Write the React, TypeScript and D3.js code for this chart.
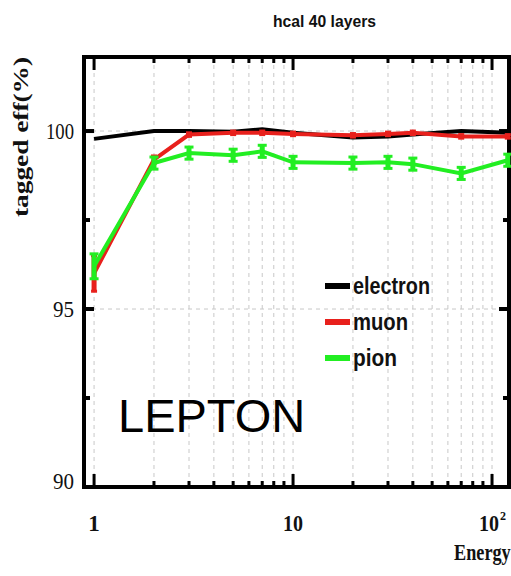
import React from 'react';
import * as d3 from 'd3';

const energies = [1, 2, 3, 5, 7, 10, 20, 30, 40, 70, 120];
const electronEff = [99.78, 100.0, 100.0, 99.98, 100.05, 99.95, 99.82, 99.85, 99.9, 100.0, 99.95];
const muonEff = [96.0, 99.2, 99.9, 99.95, 99.95, 99.92, 99.88, 99.92, 99.95, 99.85, 99.85];
const muonErr = [0.5, 0.1, 0.05, 0.05, 0.05, 0.05, 0.05, 0.05, 0.05, 0.05, 0.05];
const pionEff = [96.2, 99.1, 99.38, 99.32, 99.43, 99.12, 99.1, 99.12, 99.07, 98.81, 99.18];
const pionErr = [0.35, 0.17, 0.17, 0.17, 0.17, 0.17, 0.17, 0.17, 0.17, 0.17, 0.17];
const yTicks = [90, 95, 100];
const yMinorTicks = [92.5, 97.5];
const legendNames = ['electron', 'muon', 'pion'];
const legendWidths = [77, 55, 44];
const legendColors = ['#000000', '#e8201c', '#22ee22'];

const W = 511;
const H = 576;
const left = 84, top = 57, right = 509, bottom = 487;

export default function App() {
  const x = d3.scaleLog().domain([0.89, 121.7]).range([left, right]);
  const y = d3.scaleLinear().domain([90, 102.08]).range([bottom, top]);

  const line = d3
    .line<number>()
    .x((_, i) => x(energies[i]))
    .y((d) => y(d));

  // log ticks 1..9, 10..90, 100
  const logTicks: number[] = [];
  [1, 10, 100].forEach((dec) => {
    for (let k = 1; k < 10; k++) {
      const v = dec * k;
      if (v <= 121) logTicks.push(v);
    }
  });
  const majors = [1, 10, 100];

  const serif = 'Liberation Serif, DejaVu Serif, serif';
  const sans = 'Liberation Sans, Arial, sans-serif';

  const errBars = (vals: number[], errs: number[], color: string, capW: number) =>
    vals.map((v, i) => (
      <g key={i}>
        <line x1={x(energies[i])} x2={x(energies[i])} y1={y(v - errs[i])} y2={y(v + errs[i])} stroke={color} strokeWidth={5} />
        <line x1={x(energies[i]) - capW / 2} x2={x(energies[i]) + capW / 2} y1={y(v - errs[i])} y2={y(v - errs[i])} stroke={color} strokeWidth={3} />
        <line x1={x(energies[i]) - capW / 2} x2={x(energies[i]) + capW / 2} y1={y(v + errs[i])} y2={y(v + errs[i])} stroke={color} strokeWidth={3} />
      </g>
    ));

  const yLabelW: Record<number, number> = { 90: 21, 95: 21, 100: 28 };

  return (
    <svg width={W} height={H} style={{ position: 'absolute', left: 0, top: 0, background: '#fff' }}>
      <rect x={0} y={0} width={W} height={H} fill="#fff" />
      <text x={273} y={27} textLength={103} lengthAdjust="spacingAndGlyphs" fontFamily={sans} fontWeight="bold" fontSize={17} fill="#111">
        hcal 40 layers
      </text>

      {/* grid */}
      {logTicks.map((t) => (
        <line key={'gx' + t} x1={x(t)} x2={x(t)} y1={top} y2={bottom} stroke="#c8c8c8" strokeWidth={1} strokeDasharray="4,4" />
      ))}
      {yTicks.map((t) => (
        <line key={'gy' + t} x1={left} x2={right} y1={y(t)} y2={y(t)} stroke="#c8c8c8" strokeWidth={1} strokeDasharray="4,4" />
      ))}

      {/* ticks */}
      {logTicks.map((t) => {
        const len = majors.includes(t) ? 13 : 6;
        return (
          <g key={'tk' + t}>
            <line x1={x(t)} x2={x(t)} y1={bottom} y2={bottom - len} stroke="#000" strokeWidth={3} />
            <line x1={x(t)} x2={x(t)} y1={top} y2={top + len} stroke="#000" strokeWidth={3} />
          </g>
        );
      })}
      {yTicks.map((t) => (
        <g key={'ty' + t}>
          <line x1={left} x2={left + 10} y1={y(t)} y2={y(t)} stroke="#000" strokeWidth={4} />
          <line x1={right} x2={right - 10} y1={y(t)} y2={y(t)} stroke="#000" strokeWidth={4} />
        </g>
      ))}
      {yMinorTicks.map((t) => (
        <g key={'tym' + t}>
          <line x1={left} x2={left + 6} y1={y(t)} y2={y(t)} stroke="#000" strokeWidth={4} />
          <line x1={right} x2={right - 6} y1={y(t)} y2={y(t)} stroke="#000" strokeWidth={4} />
        </g>
      ))}

      {/* frame */}
      <rect x={left} y={top} width={right - left} height={bottom - top} fill="none" stroke="#000" strokeWidth={4} />

      {/* tick labels */}
      {yTicks.map((t) => (
        <text key={'ly' + t} x={74 - yLabelW[t]} y={t === 90 ? y(t) + 2 : y(t) + 8} textLength={yLabelW[t]} lengthAdjust="spacingAndGlyphs" fontFamily={serif} fontSize={24} fill="#111">
          {t}
        </text>
      ))}
      <text x={x(1)} y={531} textAnchor="middle" fontFamily={serif} fontWeight="bold" fontSize={23} fill="#111">1</text>
      <text transform={`translate(${x(10) - 10},531) scale(0.87,1)`} fontFamily={serif} fontWeight="bold" fontSize={23} fill="#111">10</text>
      <text transform="translate(479,531) scale(0.87,1)" fontFamily={serif} fontWeight="bold" fontSize={23} fill="#111">10</text>
      <text x={500} y={520} fontFamily={serif} fontWeight="bold" fontSize={12} fill="#111">2</text>
      <text transform="translate(454,560) scale(0.76,1)" fontFamily={serif} fontWeight="bold" fontSize={24} fill="#111">Energy</text>
      <text transform="translate(28,217) rotate(-90)" textLength={160} lengthAdjust="spacingAndGlyphs" fontFamily={serif} fontWeight="bold" fontSize={22} fill="#111">
        tagged eff(%)
      </text>

      {/* series */}
      <path d={line(electronEff) || ''} fill="none" stroke={legendColors[0]} strokeWidth={4} />
      <path d={line(muonEff) || ''} fill="none" stroke={legendColors[1]} strokeWidth={4} />
      {errBars(muonEff, muonErr, legendColors[1], 6)}
      <path d={line(pionEff) || ''} fill="none" stroke={legendColors[2]} strokeWidth={4} />
      {errBars(pionEff, pionErr, legendColors[2], 9)}

      {/* legend */}
      {legendNames.map((n, i) => (
        <g key={n}>
          <line x1={325} x2={350} y1={286 + i * 36} y2={286 + i * 36} stroke={legendColors[i]} strokeWidth={6} />
          <text x={353} y={286 + i * 36 + 8} textLength={legendWidths[i]} lengthAdjust="spacingAndGlyphs" fontFamily={sans} fontWeight="bold" fontSize={23} fill="#111">
            {n}
          </text>
        </g>
      ))}

      <text x={118} y={432} fontFamily={sans} fontSize={47} fill="#000">LEPTON</text>
    </svg>
  );
}
